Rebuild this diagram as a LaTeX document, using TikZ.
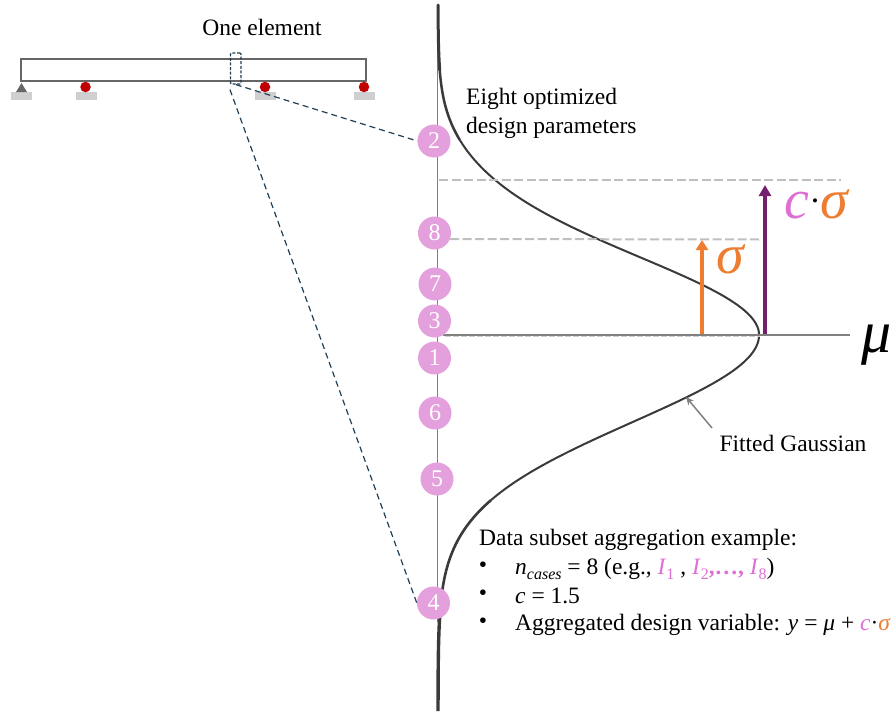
\documentclass[tikz,border=0pt]{standalone}
\usepackage{fontspec}
\setmainfont{Liberation Serif}
\usetikzlibrary{arrows.meta}
\definecolor{pinkc}{HTML}{E4A0DC}
\definecolor{pinkt}{HTML}{DE6FD4}
\definecolor{orangec}{HTML}{ED7D31}
\definecolor{purplec}{HTML}{741F6E}
\definecolor{navyd}{HTML}{1F3F55}
\definecolor{dashg}{HTML}{BFBFBF}
\definecolor{curvec}{HTML}{3A3A3A}
\definecolor{beamc}{HTML}{666666}
\definecolor{padc}{HTML}{CFCFCF}
\definecolor{redc}{HTML}{C00000}
\newcommand{\subsz}[1]{\raisebox{-4.5pt}{\fontsize{16}{16}\selectfont #1}}
\tikzset{
  txt/.style={inner sep=0pt,font=\fontsize{23.5}{27}\selectfont,text=black},
  lefttxt/.style={txt,anchor=west},
  num/.style={circle,fill=pinkc,minimum size=33pt,inner sep=0pt,text=white,font=\fontsize{24}{26}\selectfont},
  pad/.style={fill=padc,draw=none,minimum width=21pt,minimum height=8pt,inner sep=0pt},
  ball/.style={circle,fill=redc,minimum size=10.5pt,inner sep=0pt},
  lead/.style={draw=navyd,line width=1.2pt,dash pattern=on 6pt off 4pt},
  guide/.style={draw=dashg,line width=2pt,dash pattern=on 9pt off 3.5pt},
  bigm/.style={inner sep=0pt,font=\fontsize{56}{60}\selectfont\itshape},
  curve/.style={draw=curvec},
}
\begin{document}
\begin{tikzpicture}[x=1pt,y=-1pt]
\useasboundingbox (0,0) rectangle (892,712);
% axis
\coordinate (axt) at (437.5,8);
\coordinate (axb) at (437.5,622);
\draw[gray,line width=1.4pt] (axt) -- (axb);
% gaussian
\draw[curve,line width=3pt,line cap=round] plot[domain=5:70,samples=20] ({438+321*exp(-0.5*((\x-335)/80)^2)+8*exp(-0.5*((\x-180)/45)^2)},\x);
\draw[curve,line width=2.5pt] plot[domain=70:140,samples=30] ({438+321*exp(-0.5*((\x-335)/80)^2)+8*exp(-0.5*((\x-180)/45)^2)},\x);
\draw[curve,line width=2pt] plot[domain=140:335,samples=90] ({438+321*exp(-0.5*((\x-335)/80)^2)+8*exp(-0.5*((\x-180)/45)^2)},\x);
\draw[curve,line width=2pt] plot[domain=335:500,samples=80] ({438+321*exp(-0.5*((\x-335)/87)^2)},\x);
\draw[curve,line width=2.6pt] plot[domain=500:600,samples=30] ({438+321*exp(-0.5*((\x-335)/87)^2)},\x);
\draw[curve,line width=3.4pt] plot[domain=600:711,samples=20] ({438+321*exp(-0.5*((\x-335)/87)^2)},\x);
% guides
\coordinate (g1a) at (439,180); \coordinate (g1b) at (841,180);
\coordinate (g2a) at (450,239); \coordinate (g2b) at (760,239.5);
\coordinate (g3a) at (445,336); \coordinate (g3b) at (760,336);
\coordinate (ma) at (443,335); \coordinate (mb) at (850,335);
\draw[guide] (g1a) -- (g1b);
\draw[guide] (g2a) -- (g2b);
\draw[gray,line width=2.6pt] (ma) -- (mb);
\draw[draw=padc,line width=1pt,dash pattern=on 6pt off 2pt] (g3a) -- (g3b);
% arrows
\coordinate (oa) at (702,334); \coordinate (ob) at (702,240);
\coordinate (pa) at (765,334); \coordinate (pb) at (765,185);
\draw[orangec,line width=3.8pt,-{Triangle[length=10pt,width=12pt]}] (oa) -- (ob);
\draw[purplec,line width=3.8pt,-{Triangle[length=11pt,width=12pt]}] (pa) -- (pb);
% beam
\node[draw=beamc,line width=2pt,minimum width=345pt,minimum height=22pt,inner sep=0pt,anchor=north west] (beam) at (20,57.5) {};
\node[pad] (p1) at (21.5,96) {};
\node[pad] (p2) at (86.5,96) {};
\node[pad] (p3) at (265.5,96) {};
\node[pad] (p4) at (364.5,96) {};
\fill[beamc] (21.5,83) -- (27,92) -- (16,92) -- cycle;
\node[ball] (b2) at (85.5,87) {};
\node[ball] (b3) at (265,87) {};
\node[ball] (b4) at (364,87) {};
\node[draw=navyd,line width=1.2pt,dash pattern=on 3pt off 1.6pt,rounded corners=1pt,minimum width=10.5pt,minimum height=31pt,inner sep=0pt,fill=none] (elem) at (235.8,68.5) {};
% numbered
\node[num] (c2) at (434,141) {2};
\node[num] (c8) at (434.5,233) {8};
\node[num] (c7) at (435,284) {7};
\node[num] (c3) at (434.5,321) {3};
\node[num] (c1) at (434.5,358) {1};
\node[num] (c6) at (435,413) {6};
\node[num] (c5) at (437,479) {5};
\node[num] (c4) at (433.5,603) {4};
\draw[lead] (elem.south) -- (c2.west);
\draw[lead] (elem.south west) ++(0,5) coordinate (es) (es) -- (c4.west);
% labels
\node[txt] (t1) at (262,27) {One element};
\node[lefttxt] (t2) at (466,99) {Eight optimized};
\node[lefttxt] (t3) at (466,127.5) {design parameters};
\node[txt] (t4) at (793,443) {Fitted Gaussian};
\coordinate (fga) at (712,428);
\coordinate (fgb) at (686,397);
\draw[gray,line width=1.5pt,-{Stealth[length=8pt,width=7pt]}] (fga) -- (fgb);
\node[bigm,text=orangec] (sig) at (730,259) {σ};
\node[bigm,anchor=base west] (cs) at (784,218) {\textcolor{pinkt}{c}\hspace{3pt}\raisebox{12pt}{\fontsize{17}{17}\selectfont\upshape\textcolor{black}{•}}\hspace{2pt}\textcolor{orangec}{σ}};
\node[bigm,text=black,font=\fontsize{60}{64}\selectfont\itshape] (mu) at (877,345) {μ};
% example
\node[lefttxt] (e0) at (479,540) {Data subset aggregation example:};
\node[txt] (d1) at (483,567) {•};
\node[txt] (d2) at (483,595) {•};
\node[txt] (d3) at (483,623) {•};
\node[lefttxt] (e1) at (515,569) {\textit{n}\subsz{\textit{cases}} = 8 (e.g., \textcolor{pinkt}{\textit{I}\subsz{1}} , \textcolor{pinkt}{\textit{I}\subsz{2}\textbf{,…,} \textit{I}\subsz{8}})};
\node[lefttxt] (e2) at (515,595.5) {\textit{c} = 1.5};
\node[lefttxt] (e3) at (515,624.5) {Aggregated design variable: \textit{y} = \textit{μ} + \textcolor{pinkt}{\textit{c}}·\textcolor{orangec}{\textit{σ}}};
\end{tikzpicture}
\end{document}
